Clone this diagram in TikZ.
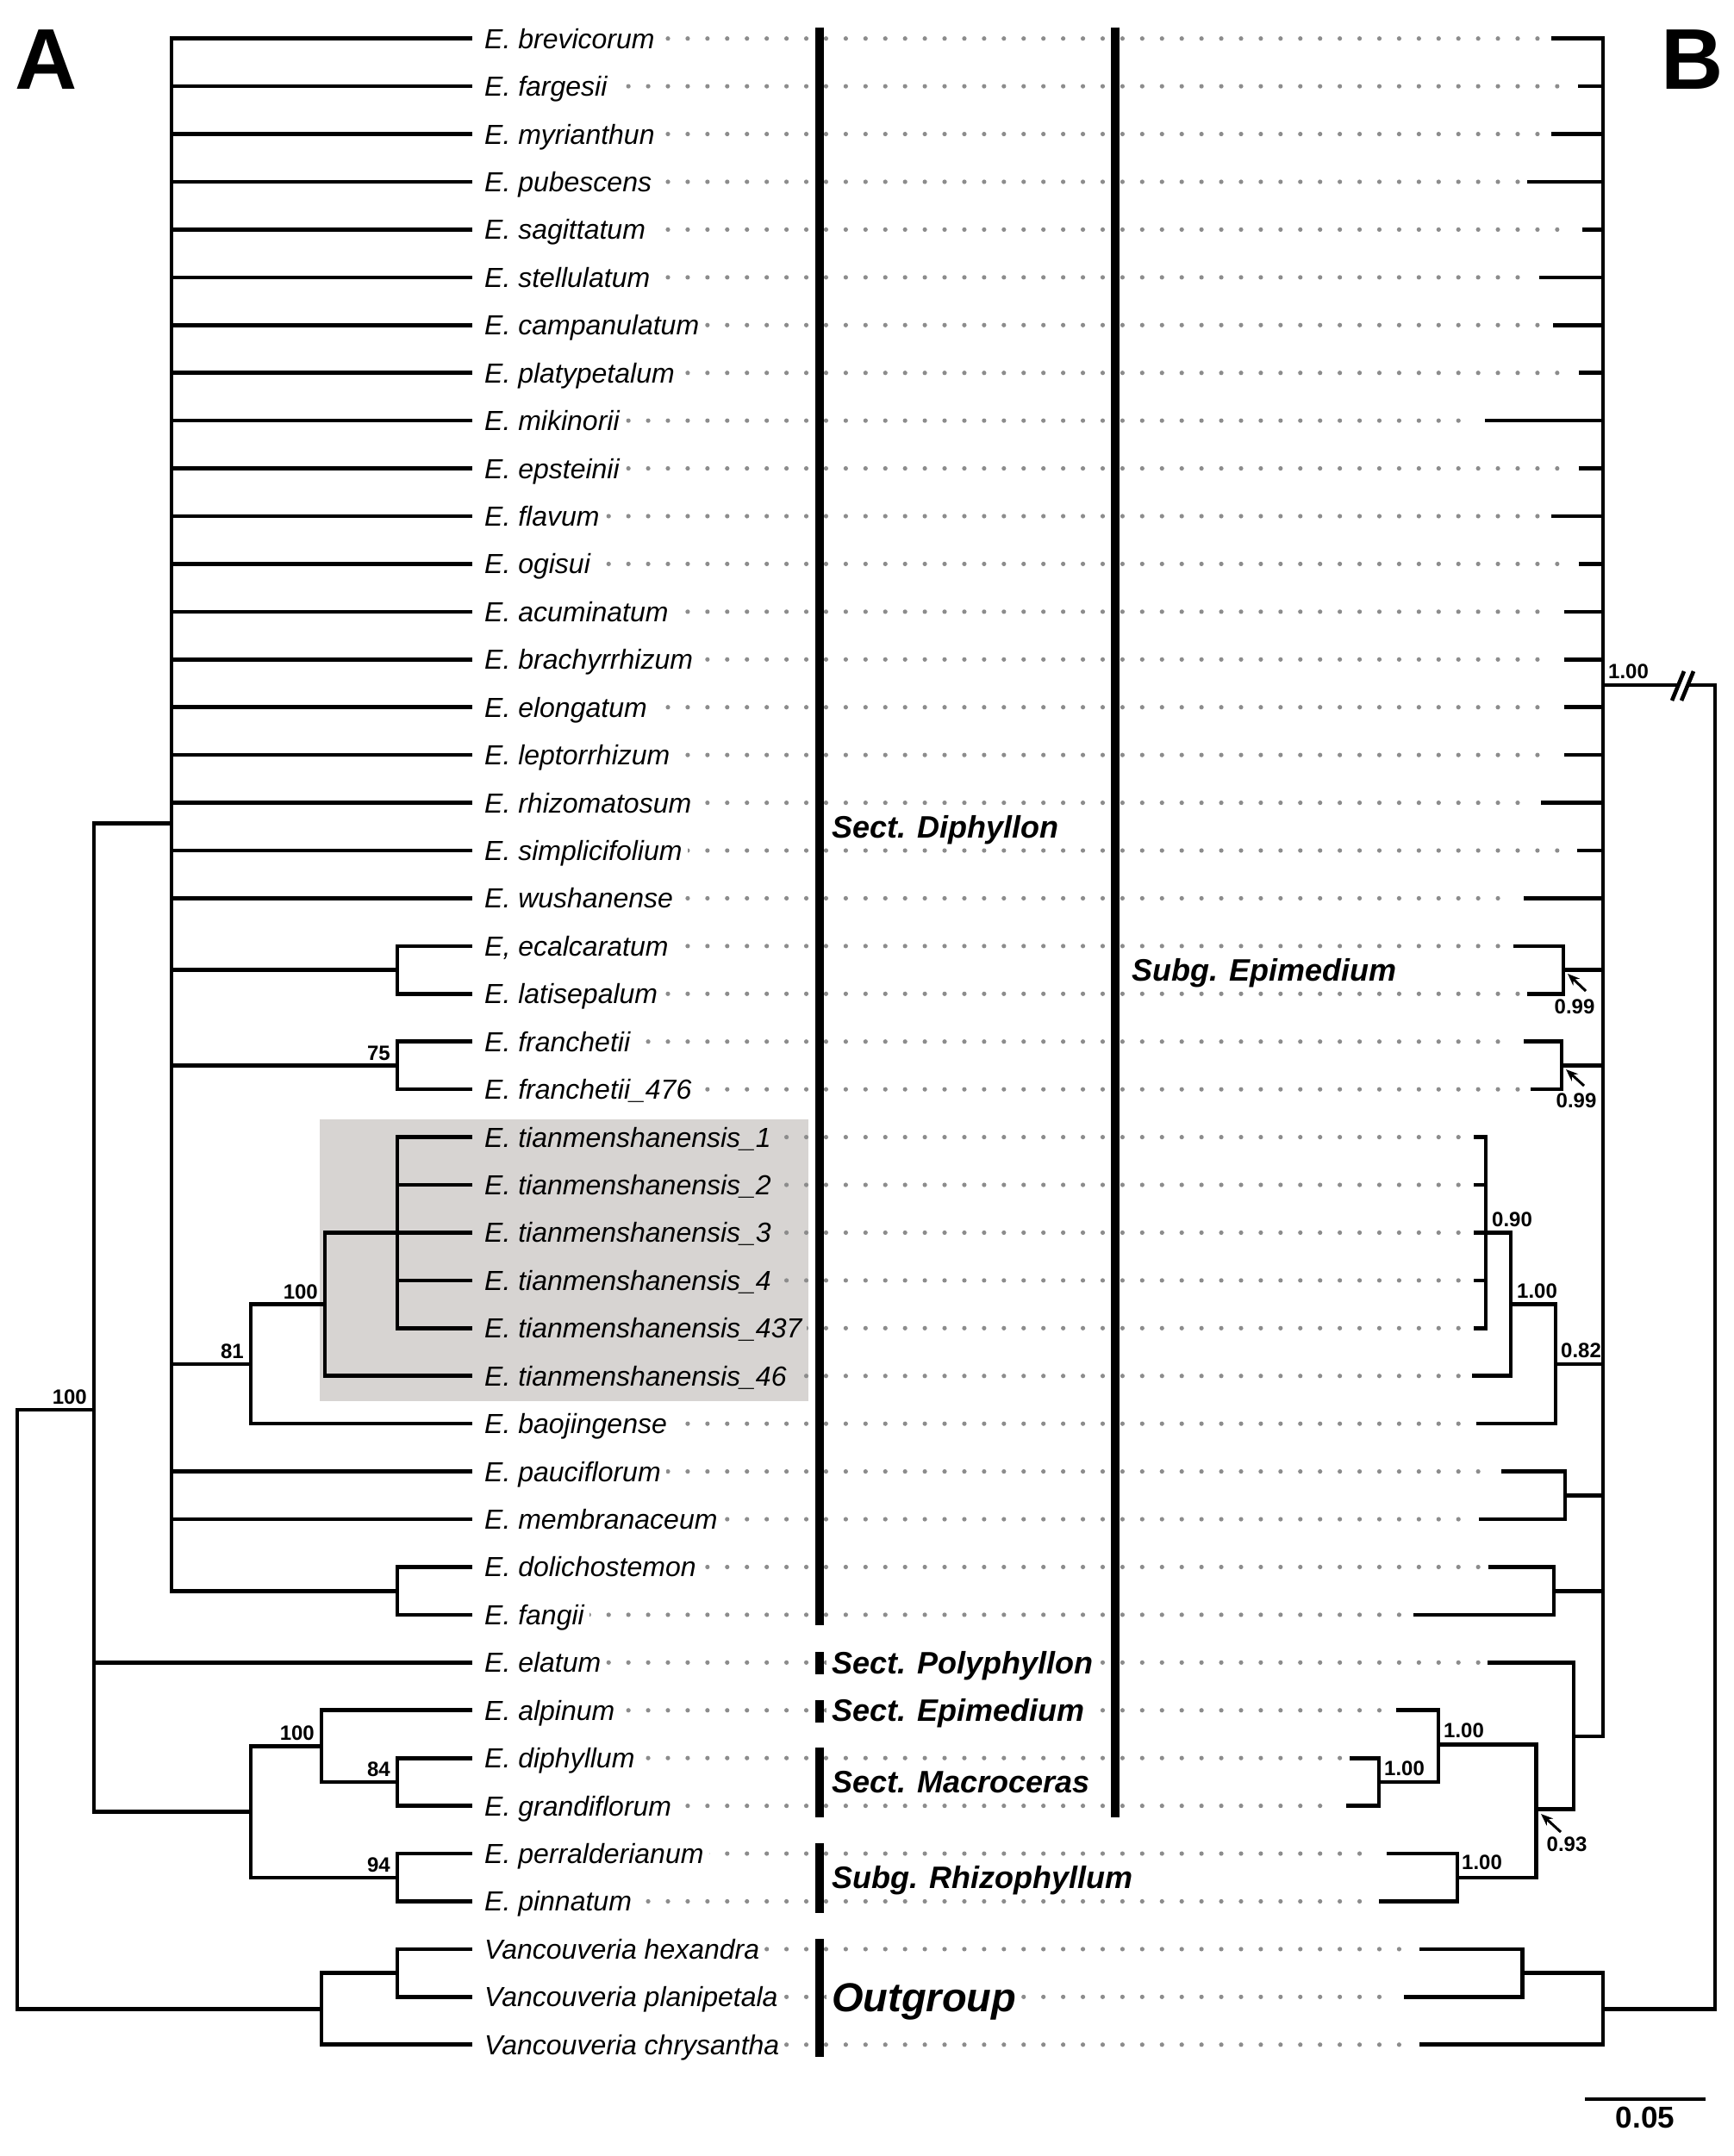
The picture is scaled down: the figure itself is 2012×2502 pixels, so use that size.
\documentclass[tikz,border=0pt]{standalone}
\usepackage{fontspec}
\setmainfont{Liberation Sans}
\usetikzlibrary{arrows.meta}
\definecolor{boxgray}{RGB}{215,212,210}
\definecolor{dotgray}{RGB}{140,140,140}
\newcommand\ecalname{E, ecalcaratum}
\begin{document}
\begin{tikzpicture}[x=1pt,y=-1pt,
  br/.style={line width=4.6pt, line join=miter},
  taxon/.style={anchor=west, inner xsep=6pt, inner ysep=0pt, text height=27pt, text depth=4pt, font=\fontsize{32}{36}\selectfont\itshape},
  supl/.style={font=\fontsize{24}{28}\selectfont\bfseries, inner sep=0pt},
  sectlab/.style={anchor=west, inner xsep=6pt, inner ysep=0pt, font=\fontsize{36}{40}\selectfont\bfseries\itshape, text height=30pt, text depth=4.2pt},
  bar/.style={line width=9.5pt},
  ar/.style={line width=3pt, -{Stealth[length=14pt,width=11pt]}},
]
\useasboundingbox (0,0) rectangle (2012,2502);
\fill[white] (0,0) rectangle (2012,2502);
% shaded clade
\fill[boxgray] (371,1299) rectangle (938,1626);

% rows: dots, leaf coordinates, labels
\foreach \i/\t/\bx/\fc in {
1/E. brevicorum/1800/white,
2/E. fargesii/1831/white,
3/E. myrianthun/1800/white,
4/E. pubescens/1772/white,
5/E. sagittatum/1836/white,
6/E. stellulatum/1786/white,
7/E. campanulatum/1802/white,
8/E. platypetalum/1832/white,
9/E. mikinorii/1723/white,
10/E. epsteinii/1832/white,
11/E. flavum/1800/white,
12/E. ogisui/1832/white,
13/E. acuminatum/1815/white,
14/E. brachyrrhizum/1815/white,
15/E. elongatum/1815/white,
16/E. leptorrhizum/1815/white,
17/E. rhizomatosum/1788/white,
18/E. simplicifolium/1830/white,
19/E. wushanense/1768/white,
20/\ecalname/1756/white,
21/E. latisepalum/1772/white,
22/E. franchetii/1768/white,
23/E. franchetii\_476/1776/white,
24/E. tianmenshanensis\_1/1710/boxgray,
25/E. tianmenshanensis\_2/1710/boxgray,
26/E. tianmenshanensis\_3/1710/boxgray,
27/E. tianmenshanensis\_4/1710/boxgray,
28/E. tianmenshanensis\_437/1710/boxgray,
29/E. tianmenshanensis\_46/1708/boxgray,
30/E. baojingense/1713/white,
31/E. pauciflorum/1742/white,
32/E. membranaceum/1716/white,
33/E. dolichostemon/1727/white,
34/E. fangii/1640/white,
35/E. elatum/1726/white,
36/E. alpinum/1620/white,
37/E. diphyllum/1566/white,
38/E. grandiflorum/1562/white,
39/E. perralderianum/1609/white,
40/E. pinnatum/1600/white,
41/Vancouveria hexandra/1647/white,
42/Vancouveria planipetala/1629/white,
43/Vancouveria chrysantha/1647/white} {
  \pgfmathsetmacro\yy{44.7+(\i-1)*55.43}
  \pgfmathtruncatemacro\kmax{floor((\bx-10-775)/22.93)}
  \foreach \k in {-9,...,\kmax} \fill[dotgray] ({775+22.93*\k},\yy) circle[radius=2.6pt];
  \coordinate (a\i) at (548,\yy);
  \coordinate (b\i) at (\bx,\yy);
  \node[taxon, fill=\fc] (t\i) at (556,\yy) {\t};
}

% ---------- tree A ----------
\coordinate (nEcal) at (461,1125.6);
\coordinate (nFran) at (461,1236.5);
\coordinate (nTianIn) at (461,1430.5);
\coordinate (nTian) at (377,1513.6);
\coordinate (n81) at (291,1582.9);
\coordinate (nDol) at (461,1846.2);
\coordinate (nDiph) at (199,955.7);
\coordinate (nMac) at (461,2067.9);
\coordinate (nAlp) at (373,2026.4);
\coordinate (nRhi) at (461,2178.8);
\coordinate (nMR) at (291,2102.6);
\coordinate (nIn) at (109,1636);
\coordinate (nVh) at (461,2289.7);
\coordinate (nOut) at (373,2331.2);
\coordinate (nRoot) at (20,1983);

\foreach \c in {1,...,19,31,32} \draw[br] (nDiph) |- (a\c);
\foreach \c in {nEcal,nFran,n81,nDol} \draw[br] (nDiph) |- (\c);
\draw[br] (nEcal) |- (a20); \draw[br] (nEcal) |- (a21);
\draw[br] (nFran) |- (a22); \draw[br] (nFran) |- (a23);
\foreach \c in {24,...,28} \draw[br] (nTianIn) |- (a\c);
\draw[br] (nTian) |- (nTianIn); \draw[br] (nTian) |- (a29);
\draw[br] (n81) |- (nTian); \draw[br] (n81) |- (a30);
\draw[br] (nDol) |- (a33); \draw[br] (nDol) |- (a34);
\draw[br] (nMac) |- (a37); \draw[br] (nMac) |- (a38);
\draw[br] (nAlp) |- (a36); \draw[br] (nAlp) |- (nMac);
\draw[br] (nRhi) |- (a39); \draw[br] (nRhi) |- (a40);
\draw[br] (nMR) |- (nAlp); \draw[br] (nMR) |- (nRhi);
\draw[br] (nIn) |- (nDiph); \draw[br] (nIn) |- (a35); \draw[br] (nIn) |- (nMR);
\draw[br] (nVh) |- (a41); \draw[br] (nVh) |- (a42);
\draw[br] (nOut) |- (nVh); \draw[br] (nOut) |- (a43);
\draw[br] (nRoot) |- (nIn); \draw[br] (nRoot) |- (nOut);

\node[supl, anchor=south east] (sA1) at (101,1630) {100};
\node[supl, anchor=south east] (sA2) at (283,1577) {81};
\node[supl, anchor=south east] (sA3) at (369,1507.6) {100};
\node[supl, anchor=south east] (sA4) at (453,1230.5) {75};
\node[supl, anchor=south east] (sA5) at (365,2020.4) {100};
\node[supl, anchor=south east] (sA6) at (453,2061.9) {84};
\node[supl, anchor=south east] (sA7) at (453,2172.8) {94};

% ---------- tree B ----------
\coordinate (bIn) at (1860,795);
\coordinate (bEcal) at (1814,1125.6);
\coordinate (bFran) at (1812,1236.5);
\coordinate (bTianIn) at (1724,1430.5);
\coordinate (bTian) at (1753,1513.6);
\coordinate (b082) at (1805,1582.9);
\coordinate (bPau) at (1816,1735.3);
\coordinate (bDol) at (1803,1846.2);
\coordinate (bElMR) at (1826,2015);
\coordinate (b093) at (1782.6,2099.5);
\coordinate (bAlpM) at (1669,2024.5);
\coordinate (bMac) at (1600,2067.9);
\coordinate (bRhi) at (1691,2178.8);
\coordinate (bOut) at (1860,2331.2);
\coordinate (bVh) at (1766.5,2289.7);
\coordinate (bRoot) at (1990,1563);

\foreach \c in {1,...,19} \draw[br] (bIn) |- (b\c);
\foreach \c in {bEcal,bFran,b082,bPau,bDol,bElMR} \draw[br] (bIn) |- (\c);
\draw[br] (bEcal) |- (b20); \draw[br] (bEcal) |- (b21);
\draw[br] (bFran) |- (b22); \draw[br] (bFran) |- (b23);
\foreach \c in {24,...,28} \draw[br] (bTianIn) |- (b\c);
\draw[br] (bTian) |- (bTianIn); \draw[br] (bTian) |- (b29);
\draw[br] (b082) |- (bTian); \draw[br] (b082) |- (b30);
\draw[br] (bPau) |- (b31); \draw[br] (bPau) |- (b32);
\draw[br] (bDol) |- (b33); \draw[br] (bDol) |- (b34);
\draw[br] (bElMR) |- (b35); \draw[br] (bElMR) |- (b093);
\draw[br] (b093) |- (bAlpM); \draw[br] (b093) |- (bRhi);
\draw[br] (bAlpM) |- (b36); \draw[br] (bAlpM) |- (bMac);
\draw[br] (bMac) |- (b37); \draw[br] (bMac) |- (b38);
\draw[br] (bRhi) |- (b39); \draw[br] (bRhi) |- (b40);
\draw[br] (bOut) |- (bVh); \draw[br] (bOut) |- (b43);
\draw[br] (bVh) |- (b41); \draw[br] (bVh) |- (b42);
\draw[br] (bRoot) |- (bIn); \draw[br] (bRoot) |- (bOut);
% break marks
\fill[white] (1945,812) -- (1959,779) -- (1961,779) -- (1947,812) -- cycle;
\fill[white] (1946,800) rectangle (1960,790);
\draw[line width=4.6pt] (1940,813) -- (1954,779);
\draw[line width=4.6pt] (1951,813) -- (1965,779);

\node[supl, anchor=south west] (sB1) at (1866,788) {1.00};
\node[supl, anchor=south west] (sB2) at (1731,1423.5) {0.90};
\node[supl, anchor=south west] (sB3) at (1760,1506.6) {1.00};
\node[supl, anchor=south west] (sB4) at (1811,1575.9) {0.82};
\node[supl, anchor=south west] (sB5) at (1675,2017) {1.00};
\node[supl, anchor=south west] (sB6) at (1606,2061) {1.00};
\node[supl, anchor=south west] (sB7) at (1696,2170) {1.00};
\node[supl] (sB8) at (1827,1168) {0.99};
\node[supl] (sB9) at (1829,1277) {0.99};
\node[supl] (sB10) at (1818,2140) {0.93};
\coordinate (q1t) at (1840,1150); \coordinate (q1h) at (1819,1130);
\coordinate (q2t) at (1838,1260); \coordinate (q2h) at (1817,1241);
\coordinate (q3t) at (1811,2126); \coordinate (q3h) at (1788,2105);
\draw[ar] (q1t) -- (q1h);
\draw[ar] (q2t) -- (q2h);
\draw[ar] (q3t) -- (q3h);

% scale bar
\coordinate (sbL) at (1839,2436);
\coordinate (sbR) at (1979,2436);
\draw[line width=4.6pt] (sbL) -- (sbR);
\node[font=\fontsize{35}{38}\selectfont\bfseries, inner sep=0pt] (sbT) at (1909,2457) {0.05};

% section labels
\node[sectlab] (lDiph) at (959,959.3) {Sect. Diphyllon};
\node[sectlab] (lSubE) at (1307,1125.6) {Subg. Epimedium};
\node[sectlab, fill=white] (lPoly) at (959,1929.4) {Sect. Polyphyllon};
\node[sectlab, fill=white] (lEpi) at (959,1984.8) {Sect. Epimedium};
\node[sectlab] (lMac) at (959,2067.9) {Sect. Macroceras};
\node[sectlab] (lRhi) at (959,2178.8) {Subg. Rhizophyllum};
\node[sectlab, fill=white, font=\fontsize{47}{50}\selectfont\bfseries\itshape, text height=38pt, text depth=4.4pt] (lOut) at (959,2317.4) {Outgroup};

% section bars
\draw[bar] (951,32) -- (951,1886);
\draw[bar] (951,1917) -- (951,1943);
\draw[bar] (951,1973) -- (951,1999);
\draw[bar] (951,2028) -- (951,2109);
\draw[bar] (951,2139) -- (951,2220);
\draw[bar] (951,2250) -- (951,2387);
\draw[bar] (1294,32) -- (1294,2109);

% panel letters
\node[font=\fontsize{100}{100}\selectfont\bfseries, anchor=base west, inner sep=0pt] (pA) at (17,104) {A};
\node[font=\fontsize{100}{100}\selectfont\bfseries, anchor=base west, inner sep=0pt] (pB) at (1927,104) {B};
\end{tikzpicture}
\end{document}
